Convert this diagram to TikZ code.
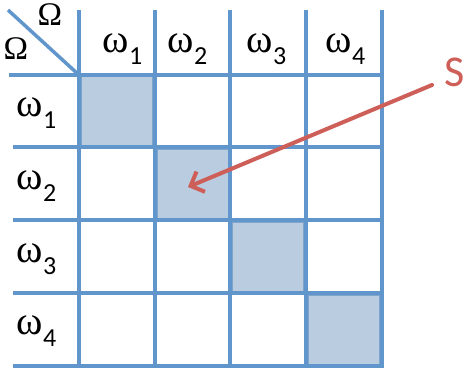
\documentclass[tikz,border=0pt]{standalone}
\usepackage{fontspec}
\usetikzlibrary{arrows.meta}
\newfontfamily\grfont{Liberation Serif}
\newfontfamily\subfont{Carlito}
\definecolor{gridblue}{RGB}{96,150,204}
\definecolor{cellfill}{RGB}{186,204,224}
\definecolor{celledge}{RGB}{128,164,202}
\definecolor{arrowred}{RGB}{206,94,88}
\newcommand{\wl}[1]{{\grfont\fontsize{40}{40}\selectfont ω}\kern0.5pt\raisebox{-12pt}{\subfont\fontsize{26}{26}\selectfont #1}}
\begin{document}
\begin{tikzpicture}[x=1pt,y=-1pt,
  gridline/.style={draw=gridblue,line width=4pt},
  shaded/.style={fill=cellfill,draw=celledge,line width=1.2pt},
  lab/.style={inner sep=0pt,anchor=base west},
  omega/.style={inner sep=0pt,font=\grfont\fontsize{33}{33}\selectfont},
  pointer/.style={draw=arrowred,line width=4pt,line cap=round,-{Straight Barb[length=11pt,width=22pt,line width=4pt]}}]
\useasboundingbox (0,0) rectangle (466,379);
% shaded diagonal cells
\node[shaded,minimum width=72pt,minimum height=69pt,inner sep=0pt] (c11) at (117,111) {};
\node[shaded,minimum width=72pt,minimum height=69pt,inner sep=0pt] (c22) at (193,184) {};
\node[shaded,minimum width=72pt,minimum height=69pt,inner sep=0pt] (c33) at (268,257) {};
\node[shaded,minimum width=72pt,minimum height=69pt,inner sep=0pt] (c44) at (344,330) {};
% grid
\coordinate (d0) at (8,10);
\coordinate (d1) at (79,75);
\draw[draw=gridblue,line width=3.5pt] (d0) -- (d1);
\foreach \x in {79,155,230,306,382} \draw[gridline] (\x,10) -- (\x,368);
\draw[gridline] (9,75) -- (384,75);
\foreach \y in {147,220,293,366} \draw[gridline] (13,\y) -- (384,\y);
% corner labels
\node[omega] (OmTop) at (50,15) {Ω};
\node[omega] (OmLeft) at (16,49) {Ω};
% column headers
\node[lab] (h1) at (102,53) {\wl{1}};
\node[lab] (h2) at (167,53) {\wl{2}};
\node[lab] (h3) at (246,53) {\wl{3}};
\node[lab] (h4) at (325,53) {\wl{4}};
% row headers
\node[lab] (r1) at (16,117) {\wl{1}};
\node[lab] (r2) at (16,190) {\wl{2}};
\node[lab] (r3) at (16,263) {\wl{3}};
\node[lab] (r4) at (16,335) {\wl{4}};
% S pointer
\node[inner sep=0pt,anchor=base west,text=arrowred,font=\subfont\fontsize{44}{44}\selectfont] (S) at (444,87) {S};
\coordinate (sfrom) at (432,85);
\coordinate (sto) at (188,187);
\draw[pointer] (sfrom) -- (sto);
\end{tikzpicture}
\end{document}
